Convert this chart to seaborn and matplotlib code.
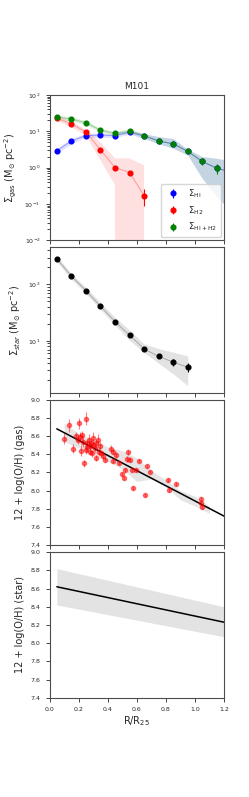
import numpy as np
import matplotlib
matplotlib.use("Agg")
import matplotlib.pyplot as plt
import seaborn as sns

# radial bins (R/R25)
r_gas = [0.05, 0.15, 0.25, 0.35, 0.45, 0.55, 0.65, 0.75, 0.85, 0.95, 1.05, 1.15, 1.25]
r_h2 = [0.05, 0.15, 0.25, 0.35, 0.45, 0.55, 0.65]

# gas surface densities
sig_hi = [2.9, 5.4, 7.6, 7.8, 7.6, 9.4, 7.4, 5.4, 4.5, 2.8, 1.47, 0.96, 0.75]
sig_hi_lo = [2.4, 4.6, 6.7, 6.9, 6.7, 8.3, 6.3, 4.5, 3.4, 2.2, 0.5, 0.16, 0.06]
sig_hi_hi = [3.4, 6.3, 8.7, 8.9, 8.6, 10.6, 8.6, 7.1, 6.3, 3.2, 2.0, 1.8, 1.5]
sig_h2 = [22.5, 16.0, 9.4, 3.1, 1.0, 0.73, 0.17]
sig_h2_lo = [19.0, 13.0, 7.5, 1.6, 0.33, -1.0, -1.0]
sig_h2_hi = [26.0, 19.0, 11.0, 5.0, 1.8, 1.8, 1.15]
sig_h2_err = [1.0, 1.0, 0.6, 0.3, 0.1, 0.08, 0.08]
sig_tot = [25.0, 21.6, 17.0, 10.7, 8.7, 10.0, 7.6, 5.4, 4.5, 2.8, 1.47, 0.96, 0.75]
sig_tot_lo = [22.0, 19.0, 15.0, 9.5, 7.8, 8.8, 6.3, 4.5, 3.4, 2.2, 0.5, 0.16, 0.06]
sig_tot_hi = [28.5, 24.5, 19.5, 12.0, 9.8, 11.8, 8.6, 7.1, 6.3, 3.2, 2.0, 1.8, 1.5]

# stellar surface density
r_star = [0.05, 0.15, 0.25, 0.35, 0.45, 0.55, 0.65, 0.75, 0.85, 0.95]
sig_star = [284, 140, 78, 41, 22, 12.6, 7.2, 5.3, 4.2, 3.4]
sig_star_err = [10, 5, 3, 1.5, 0.8, 0.5, 0.4, 0.4, 0.6, 0.6]
sig_star_lo = [255, 124, 69, 36, 19, 10.2, 6.2, 4.0, 2.6, 1.6]
sig_star_hi = [315, 157, 88, 48, 26, 15.5, 8.8, 7.3, 6.3, 5.4]

# HII region abundances
r_hii = [0.096, 0.133, 0.16, 0.179, 0.20, 0.248, 0.21, 0.218, 0.236, 0.23,
         0.25, 0.27, 0.286, 0.298, 0.31, 0.32, 0.332, 0.275, 0.293, 0.34,
         0.316, 0.367, 0.378, 0.424, 0.435, 0.454, 0.539, 0.534, 0.55, 0.477,
         0.516, 0.435, 0.568, 0.596, 0.614, 0.669, 0.688, 0.50, 0.509, 0.573,
         0.658, 0.814, 0.82, 0.866, 1.043, 1.043, 1.045, 0.195, 0.222, 0.257,
         0.28, 0.344, 0.355, 0.26, 0.30]
oh_hii = [8.57, 8.72, 8.46, 8.60, 8.74, 8.79, 8.59, 8.44, 8.30, 8.54,
          8.45, 8.56, 8.52, 8.58, 8.47, 8.52, 8.56, 8.43, 8.41, 8.43,
          8.36, 8.38, 8.34, 8.46, 8.43, 8.39, 8.42, 8.35, 8.34, 8.30,
          8.23, 8.33, 8.23, 8.23, 8.33, 8.27, 8.21, 8.18, 8.14, 8.03,
          7.95, 8.12, 8.01, 8.07, 7.91, 7.86, 7.82, 8.56, 8.61, 8.52,
          8.49, 8.49, 8.41, 8.48, 8.50]
oh_hii_err = [0.06, 0.07, 0.05, 0.05, 0.06, 0.07, 0.05, 0.06, 0.04, 0.06,
              0.05, 0.06, 0.05, 0.06, 0.05, 0.05, 0.06, 0.04, 0.04, 0.04,
              0.03, 0.03, 0.03, 0.04, 0.03, 0.03, 0.03, 0.03, 0.03, 0.02,
              0.02, 0.03, 0.02, 0.02, 0.02, 0.02, 0.02, 0.02, 0.02, 0.02,
              0.02, 0.02, 0.02, 0.02, 0.02, 0.02, 0.02, 0.05, 0.05, 0.04,
              0.04, 0.04, 0.03, 0.05, 0.04]
r_band = [0.1, 0.2, 0.3, 0.4, 0.5, 0.6, 0.7, 0.8, 0.9, 1.0, 1.1]
oh_band_lo = [8.54, 8.47, 8.40, 8.32, 8.24, 8.10, 8.13, 8.04, 7.90, 7.83, 7.75]
oh_band_hi = [8.74, 8.63, 8.56, 8.48, 8.44, 8.36, 8.22, 8.12, 8.00, 7.94, 7.83]

# fitted gradients
r_fit = [0.05, 1.2]
oh_gas_fit = [8.68, 7.72]
oh_star_fit = [8.62, 8.23]
oh_star_lo = [8.42, 8.07]
oh_star_hi = [8.82, 8.40]

sns.set_style("ticks")
plt.rcParams['font.family'] = ['DejaVu Sans']

fig, axes = plt.subplots(4, 1, figsize=(2.49, 7.97), dpi=100, sharex=True)
fig.subplots_adjust(left=0.199, right=0.9, top=0.881, bottom=0.1246, hspace=0.048)

ms = 3.4
# --- gas panel
ax = axes[0]
for r, y, lo, hi, c, lab, err in [
        (r_gas, sig_hi, sig_hi_lo, sig_hi_hi, 'blue', r'$\Sigma_{\rm HI}$', 0.2),
        (r_h2, sig_h2, sig_h2_lo, sig_h2_hi, 'red', r'$\Sigma_{\rm H2}$', None),
        (r_gas, sig_tot, sig_tot_lo, sig_tot_hi, 'green', r'$\Sigma_{\rm HI + H2}$', 0.3)]:
    ax.fill_between(r, lo, hi, color=c, alpha=0.12, lw=0)
    sns.lineplot(x=r, y=y, color=c, alpha=0.3, lw=0.8, ax=ax)
    yerr = sig_h2_err if err is None else [err] * len(r)
    ax.errorbar(r, y, yerr=yerr, fmt='o', color=c, ms=ms, elinewidth=0.8, label=lab)
ax.set_yscale('log')
ax.set_ylim(1e-2, 1e2)
ax.set_ylabel(r'$\Sigma_{\rm gas}$ (M$_{\odot}$ pc$^{-2}$)', fontsize=7)
ax.set_title('M101', fontsize=6.5, pad=4)
ax.legend(loc='lower right', fontsize=6.2, borderaxespad=0.4)

# --- stellar panel
ax = axes[1]
ax.fill_between(r_star, sig_star_lo, sig_star_hi, color='gray', alpha=0.22, lw=0)
sns.lineplot(x=r_star, y=sig_star, color='gray', alpha=0.6, lw=0.7, ax=ax)
ax.errorbar(r_star, sig_star, yerr=sig_star_err, fmt='o', color='black', ms=ms,
            elinewidth=0.8)
ax.set_yscale('log')
ax.set_ylim(1.2, 455)
ax.set_ylabel(r'$\Sigma_{star}$ (M$_{\odot}$ pc$^{-2}$)', fontsize=7)

# --- gas metallicity
ax = axes[2]
ax.fill_between(r_band, oh_band_lo, oh_band_hi, color='gray', alpha=0.2, lw=0)
ax.errorbar(r_hii, oh_hii, yerr=oh_hii_err, fmt='o', color='red', ms=3,
            elinewidth=0.8, alpha=0.5)
sns.lineplot(x=r_fit, y=oh_gas_fit, color='black', lw=1.1, ax=ax)
ax.set_ylim(7.4, 9.0)
ax.set_yticks(np.arange(7.4, 9.01, 0.2))
ax.set_ylabel('12 + log(O/H) (gas)', fontsize=7)

# --- stellar metallicity
ax = axes[3]
ax.fill_between(r_fit, oh_star_lo, oh_star_hi, color='gray', alpha=0.22, lw=0)
sns.lineplot(x=r_fit, y=oh_star_fit, color='black', lw=1.1, ax=ax)
ax.set_ylim(7.4, 9.0)
ax.set_yticks(np.arange(7.4, 9.01, 0.2))
ax.set_ylabel('12 + log(O/H) (star)', fontsize=7)
ax.set_xlim(0, 1.2)
ax.set_xticks(np.arange(0, 1.21, 0.2))
ax.set_xlabel(r'R/R$_{25}$', fontsize=7, labelpad=2)

for ax in axes:
    ax.tick_params(labelsize=4.5, length=3, width=0.6)
    for s in ax.spines.values():
        s.set_linewidth(0.8)
        s.set_color('0.3')

fig.savefig('out.png', dpi=100)
